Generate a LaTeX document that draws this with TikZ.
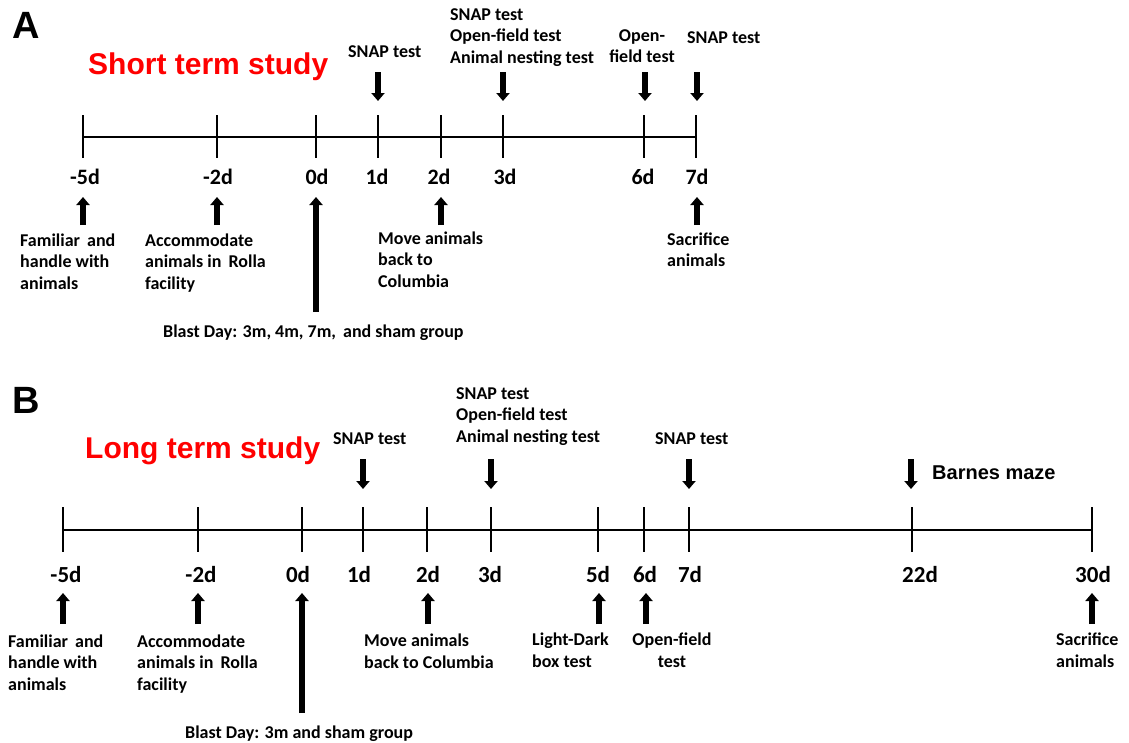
\documentclass[tikz,border=0pt]{standalone}
\usepackage{fontspec}
\setmainfont{Carlito}
\newfontfamily\calfont{Carlito}
\newfontfamily\arialfont{Liberation Sans}
\usetikzlibrary{arrows.meta}
\newcommand\LblFont{\calfont\bfseries\fontsize{18}{21.5}\selectfont}
\newcommand\DayAFont{\calfont\bfseries\fontsize{22}{26}\selectfont}
\newcommand\DayBFont{\calfont\bfseries\fontsize{23}{27}\selectfont}
\newcommand\HeadFont{\arialfont\bfseries\fontsize{30}{34}\selectfont}
\newcommand\PanelFont{\arialfont\bfseries\fontsize{38}{42}\selectfont}
\definecolor{headred}{RGB}{255,0,0}
\tikzset{
  axisline/.style={line width=2.6pt},
  tickln/.style={line width=2.4pt},
  bigarrow/.style={line width=6pt, -{Triangle[length=8pt,width=13pt]}},
  lbl/.style={font=\LblFont, inner sep=0pt, align=left, anchor=base west},
  lblc/.style={font=\LblFont, inner sep=0pt, align=center, anchor=base},
  dayA/.style={font=\DayAFont, inner sep=0pt, anchor=base},
  dayB/.style={font=\DayBFont, inner sep=0pt, anchor=base},
  head/.style={font=\HeadFont, text=headred, inner sep=0pt, anchor=base west},
  panel/.style={font=\PanelFont, inner sep=0pt, anchor=base west},
}
\begin{document}
\begin{tikzpicture}[x=1pt,y=-1pt]
\fill[white] (0,0) rectangle (1129,742);
\useasboundingbox (0,0) rectangle (1129,742);

% ---------------- Panel A ----------------
\node[panel] (pA) at (12,38) {A};
\node[head] (hA) at (88,74) {Short term study};

\foreach \n/\x in {m5/83, m2/217, z/316, d1/378, d2/441, d3/503, d6/644, d7/696}
  \coordinate (A\n) at (\x,137);
\draw[axisline] (Am5) -- (Ad7);
\foreach \n in {m5, m2, z, d1, d2, d3, d6, d7}
  \draw[tickln] (A\n) ++(0,-22) -- ++(0,43);

\node[dayA] (Alm5) at (85,184) {-5d};
\node[dayA] (Alm2) at (218,184) {-2d};
\node[dayA] (Alz)  at (317,184) {0d};
\node[dayA] (Ald1) at (377,184) {1d};
\node[dayA] (Ald2) at (439,184) {2d};
\node[dayA] (Ald3) at (505,184) {3d};
\node[dayA] (Ald6) at (643,184) {6d};
\node[dayA] (Ald7) at (697,184) {7d};

% down arrows
\foreach \n/\x in {d1/378, d3/503, d6/645, d7/697} {
  \coordinate (Ads\n) at (\x,72);
  \coordinate (Ade\n) at (\x,101);
  \draw[bigarrow] (Ads\n) -- (Ade\n);
}
% up arrows
\foreach \n/\x in {m5/83, m2/217, d2/441, d7/697} {
  \coordinate (Aus\n) at (\x,225);
  \coordinate (Aue\n) at (\x,197);
  \draw[bigarrow] (Aus\n) -- (Aue\n);
}
\coordinate (Ausz) at (316,312);
\coordinate (Auez) at (316,197);
\draw[bigarrow] (Ausz) -- (Auez);

\node[lbl] (Asnap1) at (348,57) {SNAP test};
\node[lbl] (Asnap3) at (450,63) {SNAP test\\Open-field test\\Animal nesting test};
\node[lblc] (Aopen6) at (642,62.5) {Open-\\field test};
\node[lbl] (Asnap7) at (687,43) {SNAP test};

\node[lbl] (Afam) at (20,289) {Familiar\, and\\handle with\\animals};
\node[lbl] (Aacc) at (145,289) {Accommodate\\animals in\, Rolla\\facility};
\node[lbl] (Amove) at (378,287) {Move animals\\back to\\Columbia};
\node[lbl] (Asac) at (667,266.5) {Sacrifice\\animals};
\node[lbl] (Ablast) at (163,337) {Blast Day: 3m, 4m, 7m,\, and sham group};

% ---------------- Panel B ----------------
\node[panel] (pB) at (12,413) {B};
\node[head] (hB) at (85,458) {Long term study};

\foreach \n/\x in {m5/63, m2/198, z/302, d1/363, d2/427, d3/491, d5/598, d6/644, d7/689, d22/912, d30/1092}
  \coordinate (B\n) at (\x,530);
\draw[axisline] (Bm5) -- (Bd30);
\foreach \n in {m5, m2, z, d1, d2, d3, d5, d6, d7, d22, d30}
  \draw[tickln] (B\n) ++(0,-23) -- ++(0,45);

\node[dayB] (Blm5) at (66,582) {-5d};
\node[dayB] (Blm2) at (201,582) {-2d};
\node[dayB] (Blz)  at (298,582) {0d};
\node[dayB] (Bld1) at (359,582) {1d};
\node[dayB] (Bld2) at (428,582) {2d};
\node[dayB] (Bld3) at (490,582) {3d};
\node[dayB] (Bld5) at (598,582) {5d};
\node[dayB] (Bld6) at (645,582) {6d};
\node[dayB] (Bld7) at (690,582) {7d};
\node[dayB] (Bld22) at (920,582) {22d};
\node[dayB] (Bld30) at (1093,582) {30d};

\foreach \n/\x in {d1/363, d3/491, d7/689, d22/911} {
  \coordinate (Bds\n) at (\x,459);
  \coordinate (Bde\n) at (\x,489);
  \draw[bigarrow] (Bds\n) -- (Bde\n);
}
\foreach \n/\x in {m5/63, m2/198, d2/428, d5/599, d6/646, d30/1092} {
  \coordinate (Bus\n) at (\x,624);
  \coordinate (Bue\n) at (\x,593);
  \draw[bigarrow] (Bus\n) -- (Bue\n);
}
\coordinate (Busz) at (302,713);
\coordinate (Buez) at (302,593);
\draw[bigarrow] (Busz) -- (Buez);

\node[lbl] (Bsnap1) at (333,444) {SNAP test};
\node[lbl] (Bsnap3) at (456,442) {SNAP test\\Open-field test\\Animal nesting test};
\node[lbl] (Bsnap7) at (655,444) {SNAP test};
\node[font=\arialfont\bfseries\fontsize{20}{24}\selectfont, inner sep=0pt, anchor=base west] (Bbarnes) at (932,479) {Barnes maze};

\node[lbl] (Bfam) at (8,690) {Familiar\, and\\handle with\\animals};
\node[lbl] (Bacc) at (137,690) {Accommodate\\animals in\, Rolla\\facility};
\node[lbl] (Bmove) at (364,668) {Move animals\\back to Columbia};
\node[lbl] (Blight) at (532,667) {Light-Dark\\box test};
\node[lblc] (Bopen) at (672,667) {Open-field\\test};
\node[lbl] (Bsac) at (1056,667) {Sacrifice\\animals};
\node[lbl] (Bblast) at (185,738) {Blast Day: 3m and sham group};
\end{tikzpicture}
\end{document}
